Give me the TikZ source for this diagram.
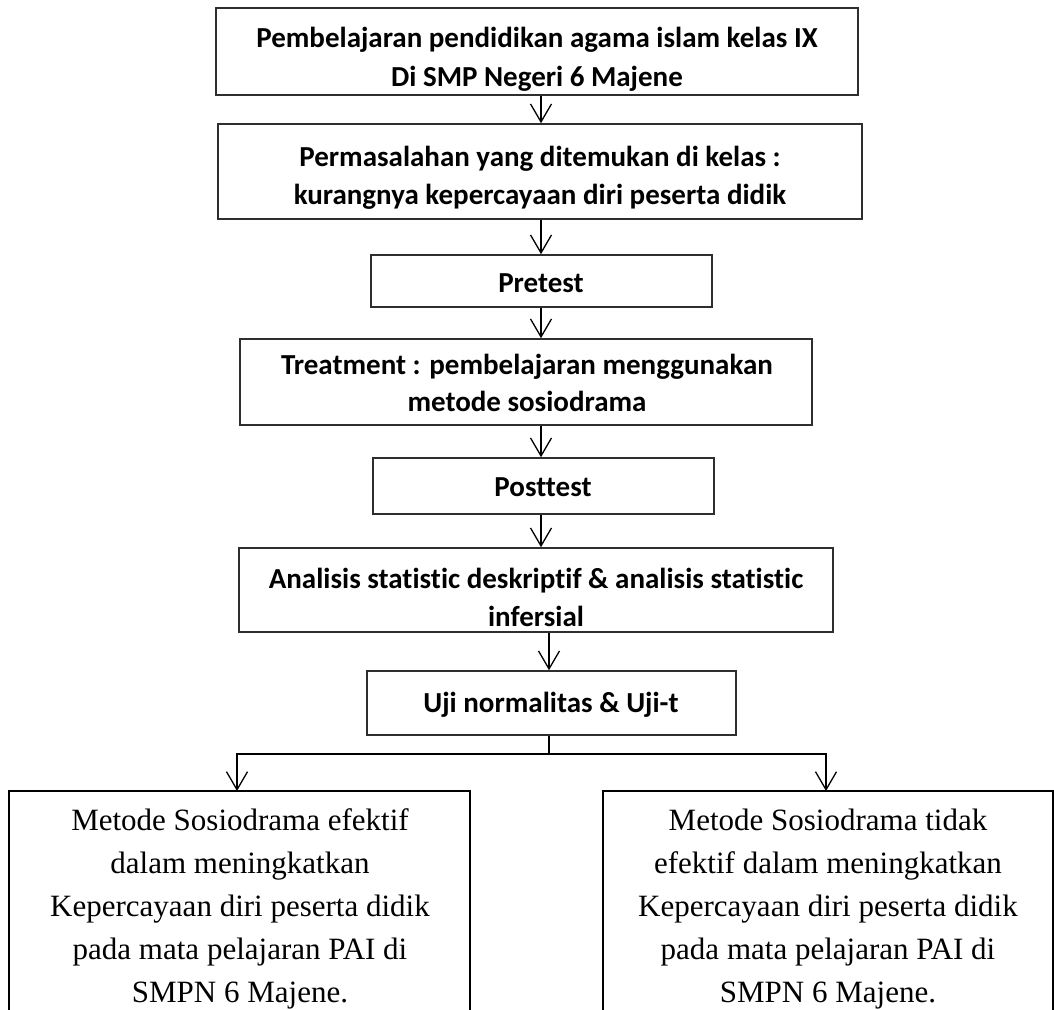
\documentclass[tikz,border=0pt]{standalone}
\usepackage{fontspec}
\setmainfont{Liberation Serif}
\newfontfamily\calb{Carlito}[BoldFont={Carlito Bold}, Ligatures=CommonOff]
\usetikzlibrary{arrows.meta}
\tikzset{
  box/.style={draw=black!82, line width=1.6pt, rectangle, inner sep=0pt},
  obox/.style={draw=black, line width=1.2pt},
  hd/.style={anchor=base, inner sep=0pt, font=\calb\bfseries\fontsize{29}{35}\selectfont},
  bt/.style={anchor=base, inner sep=0pt, font=\fontsize{31}{43}\selectfont},
  arr/.style={line width=1.3pt, -{Straight Barb[length=18pt,width=21pt,line width=1.3pt]}},
  ln/.style={line width=1.5pt}
}
\newcommand{\bx}[6]{\node[box, minimum width={#4-#2}, minimum height={#5-#3}] (#1) at ({(#2+#4)/2},{(#3+#5)/2}) {};}
\begin{document}
\begin{tikzpicture}[x=1pt,y=-1pt]
\clip (0,0) rectangle (1054,1009);
\fill[white] (0,0) rectangle (1054,1009);
% boxes
\bx{b1}{216}{8}{858}{95}{}
\bx{b2}{218}{124}{862}{219}{}
\bx{b3}{371}{255}{712}{307}{}
\bx{b4}{240}{339}{812}{425}{}
\bx{b5}{373}{458}{714}{514}{}
\bx{b6}{239}{548}{833}{632}{}
\bx{b7}{367}{671}{736}{735}{}
\draw[obox] (9,1030) -- (9,791) coordinate (Ltop) -- (470,791) -- (470,1030);
\draw[obox] (603,1030) -- (603,791) -- (1053,791) -- (1053,1030);
\coordinate (Lin) at (237,791);
\coordinate (Rin) at (826,791);
% texts
\node[hd] (t1a) at (537,47) {Pembelajaran pendidikan agama islam kelas IX};
\node[hd] (t1b) at (537,86) {Di SMP Negeri 6 Majene};
\node[hd] (t2a) at (540,166) {Permasalahan yang ditemukan di kelas :};
\node[hd] (t2b) at (540,204) {kurangnya kepercayaan diri peserta didik};
\node[hd] (t3) at (541,292) {Pretest};
\node[hd] (t4a) at (527,374) {Treatment : pembelajaran menggunakan};
\node[hd] (t4b) at (527,411) {metode sosiodrama};
\node[hd] (t5) at (543,496) {Posttest};
\node[hd] (t6a) at (536,588) {Analisis statistic deskriptif \& analisis statistic};
\node[hd] (t6b) at (536,626) {infersial};
\node[hd] (t7) at (551,712) {Uji normalitas \& Uji-t};
\node[bt] (l1) at (240,830) {Metode Sosiodrama efektif};
\node[bt] (l2) at (240,873) {dalam meningkatkan};
\node[bt] (l3) at (240,916) {Kepercayaan diri peserta didik};
\node[bt] (l4) at (240,959) {pada mata pelajaran PAI di};
\node[bt] (l5) at (240,1002) {SMPN 6 Majene.};
\node[bt] (r1) at (828,830) {Metode Sosiodrama tidak};
\node[bt] (r2) at (828,873) {efektif dalam meningkatkan};
\node[bt] (r3) at (828,916) {Kepercayaan diri peserta didik};
\node[bt] (r4) at (828,959) {pada mata pelajaran PAI di};
\node[bt] (r5) at (828,1002) {SMPN 6 Majene.};
% connectors
\coordinate (ax) at (541,0);
\coordinate (bx) at (549,0);
\draw[arr] (b1.south -| ax) -- (b2.north -| ax);
\draw[arr] (b2.south -| ax) -- (b3.north -| ax);
\draw[arr] (b3.south -| ax) -- (b4.north -| ax);
\draw[arr] (b4.south -| ax) -- (b5.north -| ax);
\draw[arr] (b5.south -| ax) -- (b6.north -| ax);
\draw[arr] (b6.south -| bx) -- (b7.north -| bx);
\coordinate (sp) at (549,754);
\draw[ln] (b7.south -| bx) -- (sp);
\draw[arr] (sp) -| (Lin);
\draw[arr] (sp) -| (Rin);
\end{tikzpicture}
\end{document}
